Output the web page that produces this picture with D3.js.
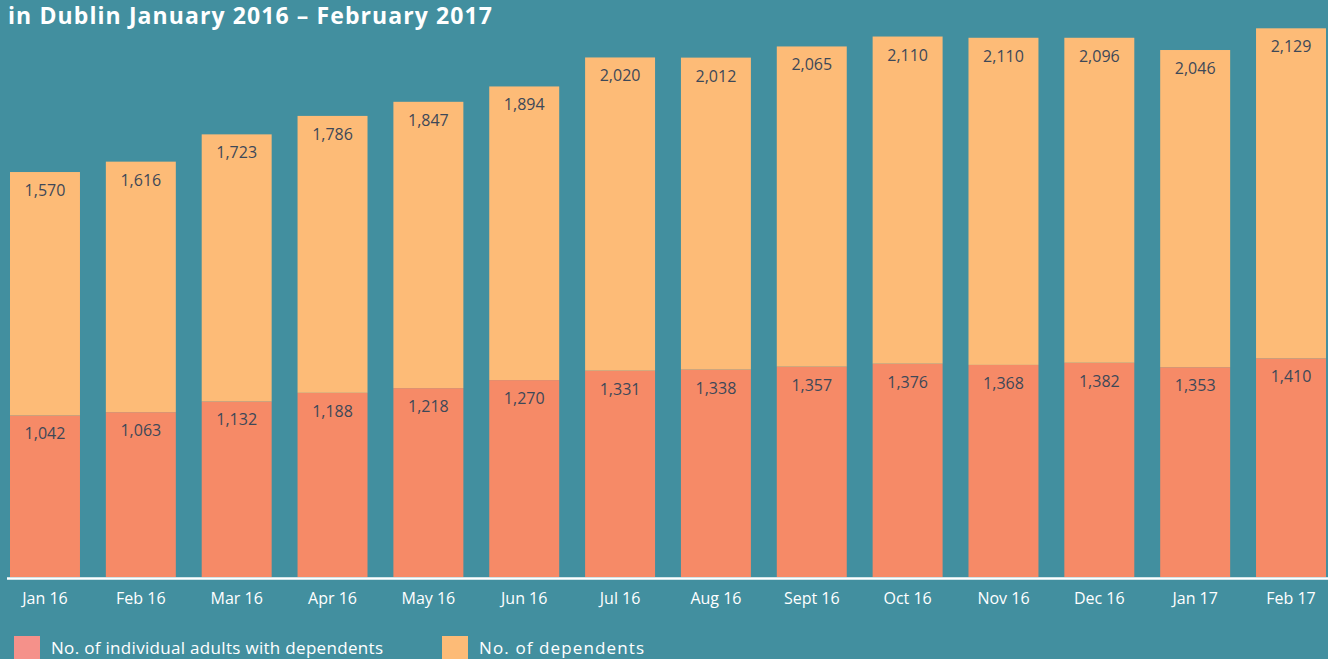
<!DOCTYPE html>
<html lang="en">
<head>
  <meta charset="UTF-8">
  <title>Adults with dependents in Dublin</title>
  <style>
    body {
      margin: 0;
      background-color: #428f9f;
      overflow: hidden;
    }
    svg {
      display: block;
      font-family: "Open Sans", Lato, sans-serif;
    }
  </style>
</head>
<body>
  <div id="chart"></div>

  <script src="https://d3js.org/d3.v7.min.js"></script>
  <script>
    // Data
    const months = ["Jan 16", "Feb 16", "Mar 16", "Apr 16", "May 16", "Jun 16", "Jul 16",
                    "Aug 16", "Sept 16", "Oct 16", "Nov 16", "Dec 16", "Jan 17", "Feb 17"];
    const adults = [1042, 1063, 1132, 1188, 1218, 1270, 1331, 1338, 1357, 1376, 1368, 1382, 1353, 1410];
    const dependents = [1570, 1616, 1723, 1786, 1847, 1894, 2020, 2012, 2065, 2110, 2110, 2096, 2046, 2129];
    const seriesNames = ["No. of individual adults with dependents", "No. of dependents"];

    const W = 1328, H = 659;
    const baseY = 577;
    const colAdults = "#f68a67";
    const colDeps = "#fdbb77";
    const labelCol = "#3d4858";

    const rows = months.map((m, i) => ({ month: m, adults: adults[i], dependents: dependents[i] }));
    const stack = d3.stack().keys(["adults", "dependents"])(rows);

    const x = d3.scaleBand()
      .domain(months)
      .range([10, 1326])
      .paddingInner(0.27)
      .paddingOuter(0);

    const y = d3.scaleLinear()
      .domain([0, 3670])
      .range([baseY, 8]);

    const svg = d3.select("#chart")
      .append("svg")
      .attr("width", W)
      .attr("height", H);

    // title (cut off at top in the original)
    svg.append("text")
      .attr("x", 8)
      .attr("y", 24)
      .attr("fill", "#fff")
      .attr("font-weight", "bold")
      .style("font-size", "23px")
      .attr("textLength", 484)
      .text("in Dublin January 2016 \u2013 February 2017");

    const colors = [colAdults, colDeps];

    const layers = svg.selectAll(".layer")
      .data(stack)
      .enter()
      .append("g")
      .attr("class", "layer")
      .attr("fill", (d, i) => colors[i]);

    layers.selectAll("rect")
      .data(d => d)
      .enter()
      .append("rect")
      .attr("x", d => x(d.data.month))
      .attr("width", x.bandwidth())
      .attr("y", d => y(d[1]))
      .attr("height", d => y(d[0]) - y(d[1]));

    // value labels near the top of each segment
    layers.selectAll("text")
      .data((d) => d.map(v => ({ v, key: d.key })))
      .enter()
      .append("text")
      .attr("x", d => x(d.v.data.month) + x.bandwidth() / 2)
      .attr("y", d => y(d.v[1]) + 24)
      .attr("text-anchor", "middle")
      .attr("fill", labelCol)
      .style("font-size", "16px")
      .text(d => d3.format(",")(d.v.data[d.key]));

    // x axis
    const xAxis = svg.append("g")
      .attr("transform", `translate(0,${baseY})`)
      .call(d3.axisBottom(x).tickSize(0).tickPadding(16));
    xAxis.select(".domain").remove();
    xAxis.selectAll("text")
      .attr("fill", "#fff")
      .style("font-size", "16px")
      .style("font-family", "'Open Sans', sans-serif");

    svg.append("line")
      .attr("x1", 7).attr("x2", W)
      .attr("y1", baseY + 1.5).attr("y2", baseY + 1.5)
      .attr("stroke", "#fff")
      .attr("stroke-width", 2.5);

    // legend
    const legendX = [14, 442];
    const legendCols = ["#f5918a", colDeps];
    const legendW = [332, 165];
    const legend = svg.selectAll(".legend")
      .data(seriesNames)
      .enter()
      .append("g")
      .attr("class", "legend")
      .attr("transform", (d, i) => `translate(${legendX[i]},636)`);

    legend.append("rect")
      .attr("width", 26)
      .attr("height", 26)
      .attr("fill", (d, i) => legendCols[i]);

    legend.append("text")
      .attr("x", 37)
      .attr("y", 18)
      .attr("fill", "#fff")
      .style("font-size", "17px")
      .attr("textLength", (d, i) => legendW[i])
      .text(d => d);
  </script>
</body>
</html>
